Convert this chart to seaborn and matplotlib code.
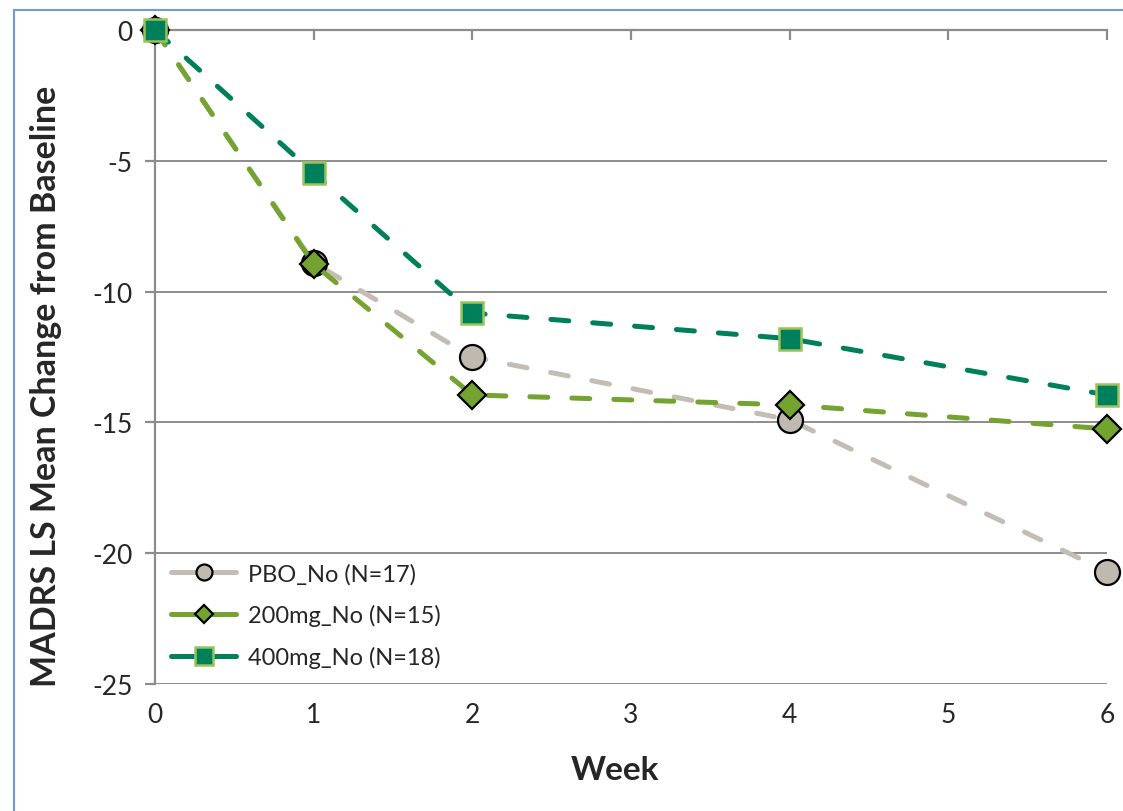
import numpy as np
import pandas as pd
import matplotlib
matplotlib.use("Agg")
import matplotlib.pyplot as plt
from matplotlib.patches import Rectangle
from matplotlib.lines import Line2D
import seaborn as sns

# data
weeks = [0, 1, 2, 4, 6]
pbo_no = [0, -8.9, -12.5, -14.9, -20.7]
mg200_no = [0, -8.95, -13.95, -14.33, -15.25]
mg400_no = [0, -5.47, -10.82, -11.8, -13.95]
series_labels = ["PBO_No (N=17)", "200mg_No (N=15)", "400mg_No (N=18)"]

sns.set_style("white")
plt.rcParams["font.family"] = ["Lato", "DejaVu Sans"]
plt.rcParams["axes.unicode_minus"] = False

fig = plt.figure(figsize=(11.23, 8.12), dpi=100)
ax = fig.add_axes([155 / 1123, 1 - 685 / 812, (1107 - 155) / 1123, (685 - 31) / 812])

grid_col = "#8c8c8c"
dash = (0, (3.6, 4.8))
styles = [
    dict(color="#c4bdb3", marker="o", markersize=18, markerfacecolor="#c0b9af",
         markeredgecolor="black", markeredgewidth=1.6),
    dict(color="#74a32f", marker="D", markersize=14, markerfacecolor="#74a32f",
         markeredgecolor="black", markeredgewidth=1.6),
    dict(color="#00805a", marker="s", markersize=16, markerfacecolor="#00805a",
         markeredgecolor="#9bc35a", markeredgewidth=1.8),
]
legend_sizes = [11.5, 9.5, 12.5]
for vals, st in zip([pbo_no, mg200_no, mg400_no], styles):
    sns.lineplot(x=weeks, y=vals, ax=ax, linewidth=3.6, linestyle=dash,
                 dash_capstyle="round", clip_on=False, zorder=5, **st)

ax.set_xlim(0, 6)
ax.set_ylim(-25, 0)
ax.set_xticks(range(0, 7))
ax.set_yticks(range(-25, 1, 5))

# horizontal gridlines
for y in range(-25, 0, 5):
    ax.axhline(y, color=grid_col, lw=1.4, zorder=1)

for s in ["right", "bottom"]:
    ax.spines[s].set_visible(False)
for s in ["top", "left"]:
    ax.spines[s].set_color(grid_col)
    ax.spines[s].set_linewidth(1.6)
    ax.spines[s].set_zorder(2)

ax.tick_params(axis="x", top=True, bottom=False, labeltop=False, labelbottom=True,
               direction="in", length=7, width=1.6, color=grid_col,
               labelsize=19, pad=13)
ax.tick_params(axis="y", left=True, direction="out", length=7, width=1.6,
               color=grid_col, labelsize=19, pad=9)

ax.set_xlabel("Week", fontsize=24, fontweight="bold")
ax.xaxis.set_label_coords(0.483, -0.108)
ax.set_ylabel("MADRS LS Mean Change from Baseline", fontsize=24.5, fontweight="bold")
ax.yaxis.set_label_coords(-0.098, 0.456)

# legend: solid handle lines with smaller markers
handles = []
for st, ms in zip(styles, legend_sizes):
    h = dict(st)
    h["markersize"] = ms
    handles.append(Line2D([], [], linewidth=3.6, solid_capstyle="round", **h))
ax.legend(handles, series_labels, loc="upper left", bbox_to_anchor=(0.007, 0.2),
          frameon=False, fontsize=17, handlelength=2.75, handletextpad=0.5,
          labelspacing=0.85, borderaxespad=0)

# outer chart border (cropped at right and bottom)
fig.patches.append(Rectangle((14 / 1123, -0.1), 2, 1 - 11 / 812 + 0.1,
                             transform=fig.transFigure, fill=False,
                             edgecolor="#6f9bd6", lw=1.5))

fig.savefig("out.png", dpi=100)
